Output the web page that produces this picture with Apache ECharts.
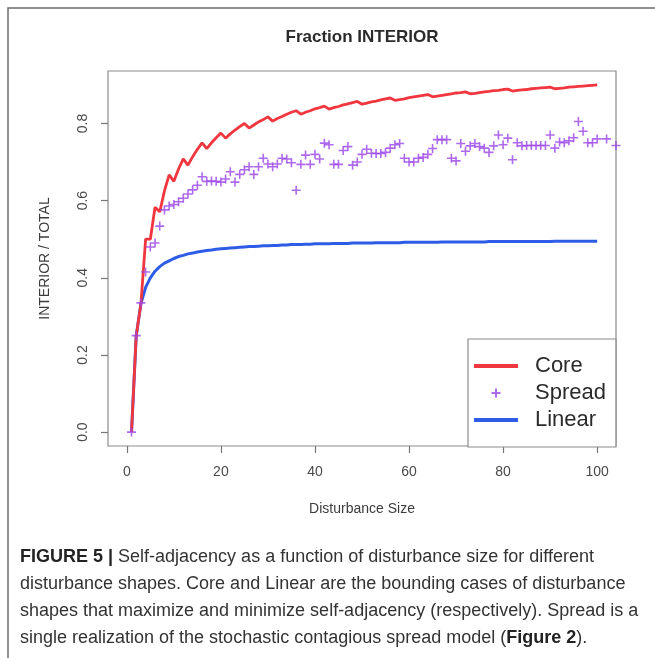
<!DOCTYPE html>
<html>
<head>
<meta charset="utf-8">
<script src="https://cdn.jsdelivr.net/npm/echarts@6/dist/echarts.min.js"></script>
<style>
  html, body { margin: 0; padding: 0; background: #fff; }
  #chart { width: 655px; height: 658px; }
</style>
</head>
<body>
<div id="chart"></div>
<script>
// Disturbance sizes (number of cells) for the two bounding shapes
const sizes = Array.from({ length: 100 }, (_, i) => i + 1);

// Compact (core) disturbance: interior / total edges
const coreFraction = [
  0, 0.25, 0.333, 0.5, 0.5, 0.583, 0.571, 0.625, 0.667, 0.65,
  0.682, 0.708, 0.692, 0.714, 0.733, 0.75, 0.735, 0.75, 0.763, 0.775,
  0.762, 0.773, 0.783, 0.792, 0.8, 0.788, 0.796, 0.804, 0.81, 0.817,
  0.806, 0.813, 0.818, 0.824, 0.829, 0.833, 0.824, 0.829, 0.833, 0.838,
  0.841, 0.845, 0.837, 0.841, 0.844, 0.848, 0.851, 0.854, 0.857, 0.85,
  0.853, 0.856, 0.858, 0.861, 0.864, 0.866, 0.86, 0.862, 0.864, 0.867,
  0.869, 0.871, 0.873, 0.875, 0.869, 0.871, 0.873, 0.875, 0.877, 0.879,
  0.88, 0.882, 0.877, 0.878, 0.88, 0.882, 0.883, 0.885, 0.886, 0.888,
  0.889, 0.884, 0.886, 0.887, 0.888, 0.89, 0.891, 0.892, 0.893, 0.894,
  0.89, 0.891, 0.892, 0.894, 0.895, 0.896, 0.897, 0.898, 0.899, 0.9
];

// Straight-line disturbance
const linearFraction = [
  0, 0.25, 0.333, 0.375, 0.4, 0.417, 0.429, 0.438, 0.444, 0.45,
  0.455, 0.458, 0.462, 0.464, 0.467, 0.469, 0.471, 0.472, 0.474, 0.475,
  0.476, 0.477, 0.478, 0.479, 0.48, 0.481, 0.481, 0.482, 0.483, 0.483,
  0.484, 0.484, 0.485, 0.485, 0.486, 0.486, 0.486, 0.487, 0.487, 0.488,
  0.488, 0.488, 0.488, 0.489, 0.489, 0.489, 0.489, 0.49, 0.49, 0.49,
  0.49, 0.49, 0.491, 0.491, 0.491, 0.491, 0.491, 0.491, 0.492, 0.492,
  0.492, 0.492, 0.492, 0.492, 0.492, 0.492, 0.493, 0.493, 0.493, 0.493,
  0.493, 0.493, 0.493, 0.493, 0.493, 0.493, 0.494, 0.494, 0.494, 0.494,
  0.494, 0.494, 0.494, 0.494, 0.494, 0.494, 0.494, 0.494, 0.494, 0.494,
  0.495, 0.495, 0.495, 0.495, 0.495, 0.495, 0.495, 0.495, 0.495, 0.495
];

// One realization of the contagious spread model
const spreadSize = sizes.concat([102, 104]);
const spreadFraction = [
  0, 0.25, 0.335, 0.415, 0.48, 0.49, 0.534, 0.576, 0.586, 0.59,
  0.597, 0.606, 0.617, 0.628, 0.64, 0.662, 0.65, 0.651, 0.65, 0.648,
  0.656, 0.675, 0.648, 0.668, 0.68, 0.688, 0.668, 0.688, 0.71, 0.695,
  0.688, 0.695, 0.71, 0.708, 0.698, 0.627, 0.694, 0.718, 0.694, 0.72,
  0.708, 0.749, 0.745, 0.694, 0.694, 0.73, 0.74, 0.692, 0.7, 0.72,
  0.733, 0.723, 0.722, 0.722, 0.725, 0.736, 0.745, 0.748, 0.71, 0.7,
  0.7, 0.71, 0.712, 0.72, 0.735, 0.758, 0.758, 0.758, 0.71, 0.703,
  0.748, 0.728, 0.742, 0.748, 0.74, 0.736, 0.725, 0.742, 0.77, 0.745,
  0.762, 0.706, 0.75, 0.742, 0.743, 0.743, 0.743, 0.743, 0.743, 0.77,
  0.736, 0.752, 0.75, 0.755, 0.763, 0.805, 0.78, 0.75, 0.75, 0.76,
  0.76, 0.743
];

const xTicks = [0, 20, 40, 60, 80, 100];
const yTicks = [0, 0.2, 0.4, 0.6, 0.8];
const yTickLabels = ['0.0', '0.2', '0.4', '0.6', '0.8'];

const captionLines = [
  '{b|FIGURE 5 |} Self-adjacency as a function of disturbance size for different',
  'disturbance shapes. Core and Linear are the bounding cases of disturbance',
  'shapes that maximize and minimize self-adjacency (respectively). Spread is a',
  'single realization of the stochastic contagious spread model ({b|Figure 2}).'
];

const FONT = '"Liberation Sans", Arial, Helvetica, sans-serif';
const CAPTION_SIZE = 18;

const RED = '#f0363e';
const BLUE = '#2f5ce6';
const PURPLE = '#9a45e8';
const PLUS = 'path://M0,5L10,5M5,0L5,10';
const LEGEND_PLUS = 'path://M-7,-7M7,7M-4.5,0L4.5,0M0,-4.5L0,4.5';

const chart = echarts.init(document.getElementById('chart'), null, { renderer: 'canvas' });

const option = {
  animation: false,
  backgroundColor: '#ffffff',
  title: {
    text: 'Fraction INTERIOR',
    left: 362,
    top: 29,
    padding: 0,
    textAlign: 'center',
    textStyle: { fontFamily: FONT, fontSize: 17, fontWeight: 'bold', color: '#2b2b2b' }
  },
  grid: {
    left: 108, right: 39, top: 71, bottom: 212,
    show: true, borderColor: '#8c8c8c', borderWidth: 1.2
  },
  xAxis: {
    type: 'value', min: -4, max: 104,
    name: 'Disturbance Size', nameLocation: 'middle', nameGap: 56,
    nameTextStyle: { fontFamily: FONT, fontSize: 14, color: '#3c3c3c' },
    axisLine: { show: false, onZero: false },
    splitLine: { show: false },
    axisTick: { show: true, length: 7, customValues: xTicks, lineStyle: { color: '#777', width: 1.2 } },
    axisLabel: { customValues: xTicks, margin: 19, fontFamily: FONT, fontSize: 14, color: '#4a4a4a' }
  },
  yAxis: {
    type: 'value', min: -0.036, max: 0.936,
    name: 'INTERIOR / TOTAL', nameLocation: 'middle', nameGap: 56,
    nameTextStyle: { fontFamily: FONT, fontSize: 14, color: '#3c3c3c' },
    axisLine: { show: false, onZero: false },
    splitLine: { show: false },
    axisTick: { show: true, length: 7, customValues: yTicks, lineStyle: { color: '#777', width: 1.2 } },
    axisLabel: {
      customValues: yTicks, margin: 18, rotate: 90, fontFamily: FONT, fontSize: 14, color: '#4a4a4a',
      formatter: v => yTickLabels[yTicks.indexOf(Math.round(v * 10) / 10)] ?? v.toFixed(1)
    }
  },
  legend: {
    orient: 'vertical', left: 468, top: 339,
    padding: [16, 10, 16, 4],
    borderColor: '#8c8c8c', borderWidth: 1.2, backgroundColor: '#ffffff',
    itemWidth: 44, itemHeight: 14, itemGap: 5,
    selectedMode: false,
    textStyle: { fontFamily: FONT, fontSize: 22, color: '#2b2b2b', padding: [0, 0, 0, 12] },
    data: [
      { name: 'Core', itemStyle: { opacity: 0 }, lineStyle: { color: RED, width: 4 } },
      { name: 'Spread', icon: LEGEND_PLUS },
      { name: 'Linear', itemStyle: { opacity: 0 }, lineStyle: { color: BLUE, width: 4 } }
    ]
  },
  series: [
    {
      name: 'Core', type: 'line',
      data: sizes.map((s, i) => [s, coreFraction[i]]),
      symbol: 'none',
      lineStyle: { color: RED, width: 2.8 },
      itemStyle: { color: RED },
      emphasis: { disabled: true },
      z: 4
    },
    {
      name: 'Spread', type: 'scatter',
      data: spreadSize.map((s, i) => [s, spreadFraction[i]]),
      symbol: PLUS, symbolSize: 9,
      itemStyle: { color: 'rgba(0,0,0,0)', borderColor: PURPLE, borderWidth: 1.6 },
      emphasis: { disabled: true },
      z: 5
    },
    {
      name: 'Linear', type: 'line',
      data: sizes.map((s, i) => [s, linearFraction[i]]),
      symbol: 'none',
      lineStyle: { color: BLUE, width: 3 },
      itemStyle: { color: BLUE },
      emphasis: { disabled: true },
      z: 3
    }
  ],
  graphic: [
    {
      type: 'polyline', silent: true,
      shape: { points: [[8, 658], [8, 8], [655, 8]] },
      style: { stroke: '#6e6e6e', lineWidth: 1.5, fill: null }
    }
  ].concat(captionLines.map((line, i) => ({
    type: 'text', silent: true,
    x: 20, y: 557 + i * 27,
    style: {
      text: line,
      fontFamily: FONT, fontSize: CAPTION_SIZE,
      fill: '#333333', verticalAlign: 'middle',
      rich: { b: { fontFamily: FONT, fontSize: CAPTION_SIZE, fontWeight: 'bold', fill: '#222222' } }
    }
  })))
};

chart.setOption(option);
</script>
</body>
</html>
